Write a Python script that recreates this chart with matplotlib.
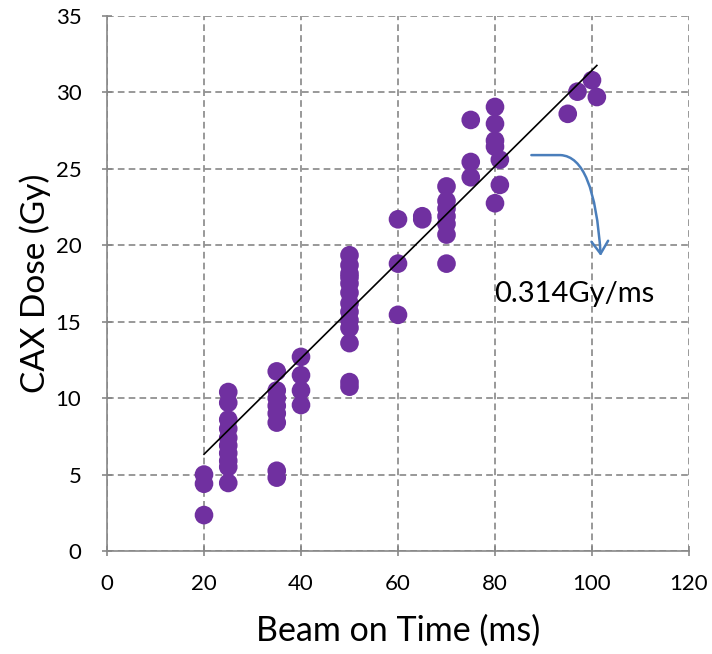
import matplotlib
matplotlib.use("Agg")
import matplotlib.pyplot as plt
import numpy as np
from matplotlib.path import Path
from matplotlib.patches import FancyArrowPatch

plt.rcParams['font.family'] = ['Lato', 'DejaVu Sans']

# Beam-on time (ms) and CAX dose (Gy)
beam_time = [20, 20, 20,
             25, 25, 25, 25, 25, 25, 25, 25, 25, 25,
             35, 35, 35, 35, 35, 35, 35, 35,
             40, 40, 40, 40,
             50, 50, 50, 50, 50, 50, 50, 50, 50, 50, 50, 50, 50,
             60, 60, 60,
             65, 65,
             70, 70, 70, 70, 70, 70, 70,
             75, 75, 75,
             80, 80, 80, 80, 81, 81, 80,
             95, 97, 100, 101]
cax_dose = [5.0, 4.4, 2.35,
            10.4, 9.7, 8.6, 8.0, 7.4, 6.9, 6.4, 5.9, 5.5, 4.45,
            11.75, 10.5, 10.0, 9.5, 9.0, 8.4, 5.25, 4.8,
            12.7, 11.5, 10.5, 9.55,
            19.35, 18.7, 18.15, 17.5, 16.9, 16.2, 15.65, 15.1, 14.6, 13.6, 11.05, 10.75, 17.9,
            21.7, 18.8, 15.45,
            21.9, 21.7,
            23.85, 22.9, 22.4, 21.9, 21.4, 20.7, 18.8,
            28.2, 25.45, 24.45,
            29.05, 27.95, 26.85, 26.45, 25.6, 23.95, 22.75,
            28.6, 30.05, 30.8, 29.7]

fit_x = [20, 101]
slope, intercept = 0.314, 0.05

x_ticks = [0, 20, 40, 60, 80, 100, 120]
y_ticks = [0, 5, 10, 15, 20, 25, 30, 35]

fig = plt.figure(figsize=(7.12, 6.54), dpi=100)
ax = fig.add_axes([107/712, 1 - 551/654, (689-107)/712, (551-16)/654])

ax.set_xlim(0, 120)
ax.set_ylim(0, 35)
ax.set_xticks(x_ticks)
ax.set_yticks(y_ticks)

grid_color = '#878787'
ax.grid(True, color=grid_color, linestyle=(0, (4, 2.5)), linewidth=1.2, zorder=0)
ax.set_axisbelow(True)
for s in ['top', 'right']:
    ax.spines[s].set_visible(False)
for s in ['left', 'bottom']:
    ax.spines[s].set_color(grid_color)
    ax.spines[s].set_linewidth(1.2)

ax.tick_params(axis='both', direction='inout', length=7, width=1.2, color=grid_color,
               labelsize=16, labelcolor='black')
ax.tick_params(axis='y', pad=15)
ax.tick_params(axis='x', pad=13)

ax.scatter(beam_time, cax_dose, s=180, color='#7030A0', edgecolors='none', zorder=3)

fx = np.array(fit_x, dtype=float)
ax.plot(fx, slope * fx + intercept, color='black', linewidth=1.2, zorder=4)

ax.set_xlabel('Beam on Time (ms)', fontsize=24.5, labelpad=15)
ax.set_ylabel('CAX Dose (Gy)', fontsize=24, labelpad=3)

# curved arrow annotation
verts = [(87.5, 25.9), (93.5, 25.9), (100.5, 25.8), (101.8, 19.3)]
codes = [Path.MOVETO, Path.LINETO, Path.CURVE3, Path.CURVE3]
arrow = FancyArrowPatch(path=Path(verts, codes), arrowstyle='->,head_length=9,head_width=6',
                        color='#4A7EBB', linewidth=1.8, zorder=5)
ax.add_patch(arrow)

ax.text(79.8, 16.8, '0.314Gy/ms', fontsize=21, ha='left', va='center', color='black')

fig.savefig('out.png', dpi=100)
